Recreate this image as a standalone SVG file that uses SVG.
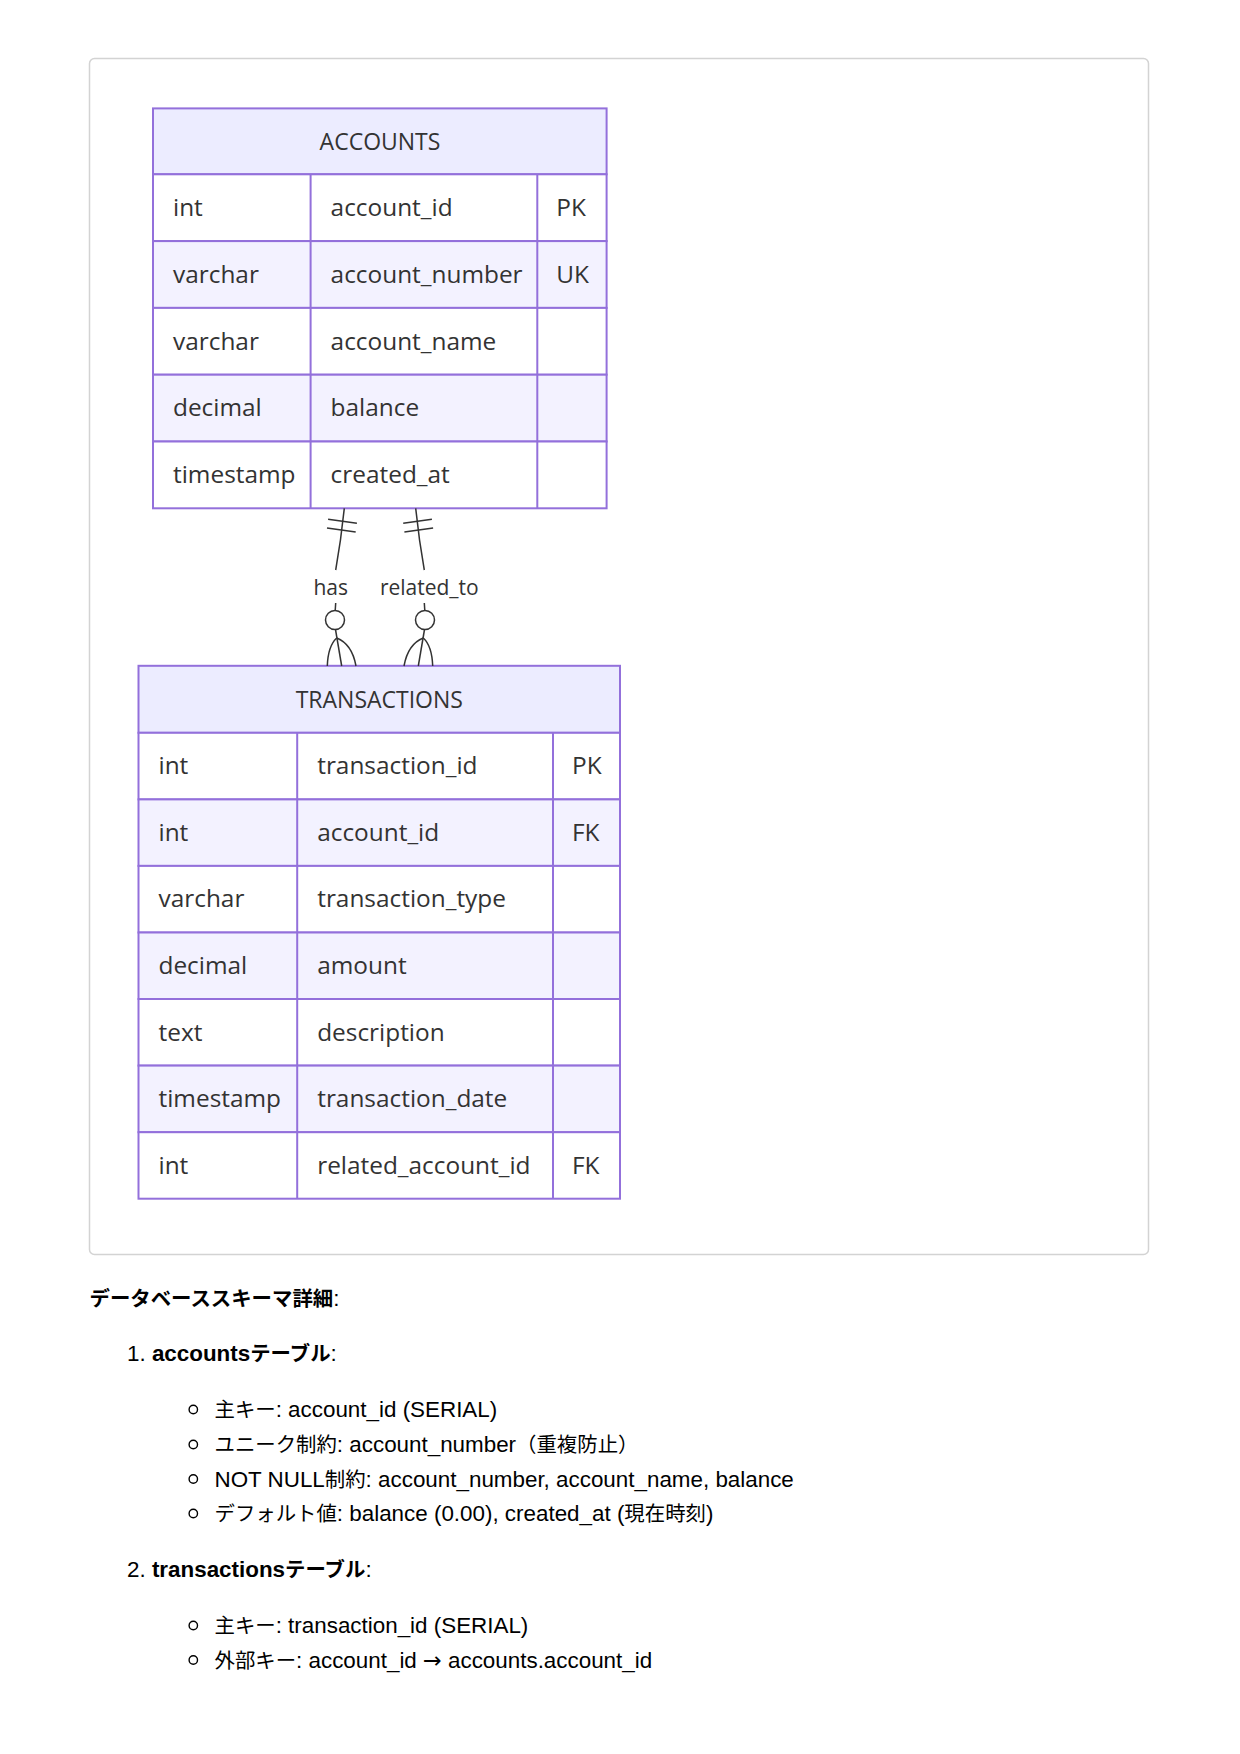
<svg xmlns="http://www.w3.org/2000/svg" width="1240" height="1754" viewBox="0 0 1240 1754">
<style>
.frame{fill:#ffffff;stroke:#d3d3d3;stroke-width:1.5}
.hdr{fill:#ececff;stroke:#9370db;stroke-width:2}
.odd{fill:#ffffff;stroke:#9370db;stroke-width:2}
.even{fill:#f3f2ff;stroke:#9370db;stroke-width:2}
.col{stroke:#9370db;stroke-width:2}
.ht{font-family:"Open Sans","Liberation Sans",sans-serif;font-size:23px;fill:#333333;text-anchor:middle}
.ct{font-family:"Open Sans","Liberation Sans",sans-serif;font-size:24.4px;fill:#333333}
.lbl{font-family:"Open Sans","Liberation Sans",sans-serif;font-size:21px;fill:#333333;text-anchor:middle}
.edge{fill:none;stroke:#333333;stroke-width:1.5}
.circ{fill:#ffffff;stroke:#333333;stroke-width:1.5}
.note{font-family:"Liberation Sans","Noto Sans CJK JP",sans-serif;font-size:22.4px;fill:#000000}
.j{font-size:20.4px}
.b{font-weight:bold}
.arr{font-family:"Noto Sans","DejaVu Sans",sans-serif}
.bul{fill:none;stroke:#000000;stroke-width:1.4}
</style>
<rect width="1240" height="1754" fill="#ffffff"/>
<rect class="frame" x="89.5" y="58.5" width="1059" height="1196" rx="5"/>

<g id="accounts">
<rect class="hdr" x="153" y="108.4" width="453.6" height="65.9"/>
<rect class="odd" x="153" y="174.3" width="453.6" height="66.8"/>
<rect class="even" x="153" y="241.1" width="453.6" height="66.8"/>
<rect class="odd" x="153" y="307.9" width="453.6" height="66.8"/>
<rect class="even" x="153" y="374.7" width="453.6" height="66.8"/>
<rect class="odd" x="153" y="441.5" width="453.6" height="66.8"/>
<line class="col" x1="310.6" y1="174.3" x2="310.6" y2="508.3"/>
<line class="col" x1="537.3" y1="174.3" x2="537.3" y2="508.3"/>
<text class="ht" x="380" y="149.5">ACCOUNTS</text>
<text class="ct" x="173" y="216">int</text>
<text class="ct" x="330.6" y="216">account_id</text>
<text class="ct" x="556.3" y="216">PK</text>
<text class="ct" x="173" y="282.8">varchar</text>
<text class="ct" x="330.6" y="282.8">account_number</text>
<text class="ct" x="556.3" y="282.8">UK</text>
<text class="ct" x="173" y="349.6">varchar</text>
<text class="ct" x="330.6" y="349.6">account_name</text>
<text class="ct" x="173" y="416.4">decimal</text>
<text class="ct" x="330.6" y="416.4">balance</text>
<text class="ct" x="173" y="483.2">timestamp</text>
<text class="ct" x="330.6" y="483.2">created_at</text>
</g>

<g id="transactions">
<rect class="hdr" x="138.5" y="665.8" width="481.5" height="67"/>
<rect class="odd" x="138.5" y="732.8" width="481.5" height="66.6"/>
<rect class="even" x="138.5" y="799.4" width="481.5" height="66.5"/>
<rect class="odd" x="138.5" y="865.9" width="481.5" height="66.6"/>
<rect class="even" x="138.5" y="932.5" width="481.5" height="66.5"/>
<rect class="odd" x="138.5" y="999" width="481.5" height="66.6"/>
<rect class="even" x="138.5" y="1065.6" width="481.5" height="66.6"/>
<rect class="odd" x="138.5" y="1132.2" width="481.5" height="66.5"/>
<line class="col" x1="297.2" y1="732.8" x2="297.2" y2="1198.7"/>
<line class="col" x1="553" y1="732.8" x2="553" y2="1198.7"/>
<text class="ht" x="379.3" y="707.8">TRANSACTIONS</text>
<text class="ct" x="158.5" y="774.2">int</text>
<text class="ct" x="317.2" y="774.2">transaction_id</text>
<text class="ct" x="572" y="774.2">PK</text>
<text class="ct" x="158.5" y="840.8">int</text>
<text class="ct" x="317.2" y="840.8">account_id</text>
<text class="ct" x="572" y="840.8">FK</text>
<text class="ct" x="158.5" y="907.4">varchar</text>
<text class="ct" x="317.2" y="907.4">transaction_type</text>
<text class="ct" x="158.5" y="974">decimal</text>
<text class="ct" x="317.2" y="974">amount</text>
<text class="ct" x="158.5" y="1040.5">text</text>
<text class="ct" x="317.2" y="1040.5">description</text>
<text class="ct" x="158.5" y="1107.1">timestamp</text>
<text class="ct" x="317.2" y="1107.1">transaction_date</text>
<text class="ct" x="158.5" y="1173.7">int</text>
<text class="ct" x="317.2" y="1173.7">related_account_id</text>
<text class="ct" x="572" y="1173.7">FK</text>
</g>

<g id="connectors">
<g id="edge-has">
<path class="edge" d="M344.3,508.3 Q341,540 335.7,570"/>
<line class="edge" x1="328.1" y1="519.2" x2="356.9" y2="523.2"/>
<line class="edge" x1="327" y1="528.1" x2="355.7" y2="532.1"/>
<text class="lbl" x="330.7" y="594.5">has</text>
<line class="edge" x1="335.7" y1="603" x2="335.2" y2="610.5"/>
<circle class="circ" cx="335" cy="620" r="9.5"/>
<path class="edge" d="M335.5,629.5 L341.7,666"/>
<path class="edge" d="M336.7,638 Q328,646 327.3,666"/>
<path class="edge" d="M336.7,638 Q352,644 356,666"/>
</g>
<g id="edge-related_to">
<path class="edge" d="M415.7,508.3 Q419,540 424.3,570"/>
<line class="edge" x1="403.2" y1="523.2" x2="431.9" y2="519.2"/>
<line class="edge" x1="404.4" y1="532.1" x2="433.1" y2="528.1"/>
<text class="lbl" x="429.3" y="594.5">related_to</text>
<line class="edge" x1="424.3" y1="603" x2="424.8" y2="610.5"/>
<circle class="circ" cx="425" cy="620" r="9.5"/>
<path class="edge" d="M424.5,629.5 L418.3,666"/>
<path class="edge" d="M423.3,638 Q432,646 432.7,666"/>
<path class="edge" d="M423.3,638 Q408,644 404,666"/>
</g>
</g>

<g id="notes">
<text class="note" x="89.5" y="1306"><tspan class="b j">データベーススキーマ詳細</tspan>:</text>
<text class="note" x="127" y="1361">1. <tspan class="b">accounts<tspan class="j">テーブル</tspan></tspan>:</text>
<circle class="bul" cx="193.3" cy="1409.5" r="4.2"/>
<text class="note" x="214.5" y="1417"><tspan class="j">主キー</tspan>: account_id (SERIAL)</text>
<circle class="bul" cx="193.3" cy="1444.5" r="4.2"/>
<text class="note" x="214.5" y="1452"><tspan class="j">ユニーク制約</tspan>: account_number<tspan class="j">（重複防止）</tspan></text>
<circle class="bul" cx="193.3" cy="1479" r="4.2"/>
<text class="note" x="214.5" y="1486.5">NOT NULL<tspan class="j">制約</tspan>: account_number, account_name, balance</text>
<circle class="bul" cx="193.3" cy="1513.5" r="4.2"/>
<text class="note" x="214.5" y="1521"><tspan class="j">デフォルト値</tspan>: balance (0.00), created_at (<tspan class="j">現在時刻</tspan>)</text>
<text class="note" x="127" y="1577">2. <tspan class="b">transactions<tspan class="j">テーブル</tspan></tspan>:</text>
<circle class="bul" cx="193.3" cy="1625.5" r="4.2"/>
<text class="note" x="214.5" y="1633"><tspan class="j">主キー</tspan>: transaction_id (SERIAL)</text>
<circle class="bul" cx="193.3" cy="1660" r="4.2"/>
<text class="note" x="214.5" y="1667.5"><tspan class="j">外部キー</tspan>: account_id <tspan class="arr">→</tspan> accounts.account_id</text>
</g>
</svg>
